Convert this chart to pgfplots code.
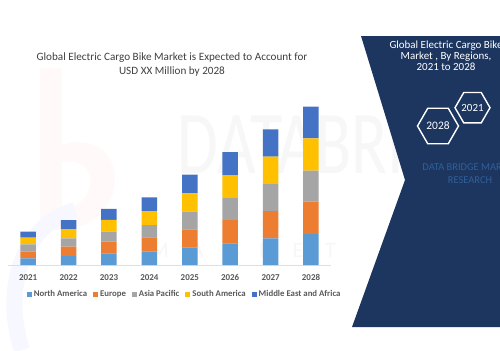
\documentclass[border=0pt]{standalone}
\usepackage{fontspec}
\setmainfont{Carlito}
\usepackage{pgfplots}
\pgfplotsset{compat=1.18}
\definecolor{na}{HTML}{5B9BD5}
\definecolor{eu}{HTML}{ED7D31}
\definecolor{ap}{HTML}{A5A5A5}
\definecolor{sa}{HTML}{FFC000}
\definecolor{me}{HTML}{4472C4}
\definecolor{navy}{HTML}{1D365F}
\definecolor{txt}{HTML}{404040}
\definecolor{lbl}{HTML}{595959}
\definecolor{steel}{HTML}{2F5F9A}
\begin{document}
\begin{tikzpicture}[x=1bp,y=1bp]
\path[use as bounding box, clip] (0,0) rectangle (500,350);
\fill[white] (0,0) rectangle (500,350);
% faint watermark
\fill[red!2.5] (40,120) rectangle (62,282);
\fill[red!2.5] (62,205) .. controls (130,225) and (135,125) .. (62,120) -- (62,140) .. controls (100,145) and (100,195) .. (62,188) -- cycle;
\draw[blue!3, line width=16bp] (22,0) .. controls (2,60) and (22,125) .. (75,140);
\node[anchor=south west, inner sep=0, text=gray!6, font=\fontsize{90}{90}\selectfont, xscale=0.74] at (177,176) {DATABRIDGE};
\node[anchor=west, inner sep=0, text=gray!6, font=\fontsize{22}{22}\selectfont] at (150,100) {M\quad A\quad R\quad K\quad E\quad T};
% title
\node[text=txt, font=\fontsize{11.2}{15}\selectfont, align=center] at (172,285.5) {Global Electric Cargo Bike Market is Expected to Account for\\USD XX Million by 2028};
\begin{axis}[
  at={(19.8,85)}, anchor=south west, scale only axis,
  width=323.2bp, height=170bp,
  xmin=-0.5, xmax=7.5, ymin=0, ymax=170,
  ybar stacked, bar width=15.5bp,
  axis y line=none, axis x line=bottom,
  x axis line style={-, draw=gray!25},
  xtick={0,...,7}, xticklabels={2021,2022,2023,2024,2025,2026,2027,2028},
  major tick length=0pt,
  xticklabel style={font=\fontsize{9}{9}\selectfont\bfseries, text=lbl, yshift=-6bp},
  clip=false,
  legend columns=5,
  legend style={at={(0.5,-29bp)}, anchor=center, xshift=15bp, draw=none, fill=none,
    font=\fontsize{8.8}{9}\selectfont\bfseries, text=lbl,
    /tikz/every even column/.append style={column sep=4bp},
    inner sep=0pt},
  legend cell align=left,
  legend image code/.code={\fill[#1] (0bp,-2.5bp) rectangle (5bp,2.5bp);},
  every axis plot/.append style={draw=none},
]
\addplot[fill=na] coordinates {(0,6.7) (1,9) (2,11.7) (3,13.3) (4,17.7) (5,21.7) (6,26.7) (7,31)};
\addplot[fill=eu] coordinates {(0,6.7) (1,9.3) (2,11.7) (3,14.3) (4,18) (5,23.3) (6,27.3) (7,32.3)};
\addplot[fill=ap] coordinates {(0,7.3) (1,8.3) (2,10) (3,12.3) (4,17.7) (5,22.7) (6,27) (7,31)};
\addplot[fill=sa] coordinates {(0,6.7) (1,9.3) (2,11.7) (3,14) (4,18.3) (5,22.3) (6,27.3) (7,32.3)};
\addplot[fill=me] coordinates {(0,6) (1,9) (2,11) (3,13.7) (4,18.7) (5,23) (6,27.3) (7,31.7)};
\legend{North America,Europe,Asia Pacific,South America,Middle East and Africa}
\end{axis}
% right panel
\fill[navy] (361,314) -- (505,314) -- (505,23) -- (352,23) -- (405,170) -- cycle;
\node[text=white, font=\fontsize{11}{11}\selectfont, align=center] at (446,294) {Global Electric Cargo Bike\\[0pt]Market , By Regions,\\2021 to 2028};
\draw[white, line width=1.4bp] (472.5,242.3) +(0:17.5) -- +(60:17.5) -- +(120:17.5) -- +(180:17.5) -- +(240:17.5) -- +(300:17.5) -- cycle;
\node[text=white, font=\fontsize{11}{11}\selectfont] at (472.5,242.3) {2021};
\draw[white, line width=1.4bp] (438,224) +(0:20.5) -- +(60:20.5) -- +(120:20.5) -- +(180:20.5) -- +(240:20.5) -- +(300:20.5) -- cycle;
\node[text=white, font=\fontsize{11.5}{11.5}\selectfont] at (438,224) {2028};
\node[text=steel, font=\fontsize{10.5}{13}\selectfont, align=center] at (470,176.5) {DATA BRIDGE MARKET\\RESEARCH};
\end{tikzpicture}
\end{document}
